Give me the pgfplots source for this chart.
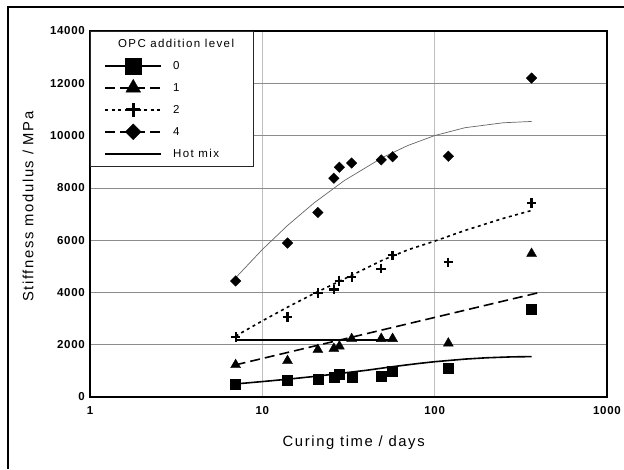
\documentclass[border=0pt]{standalone}
\usepackage{fontspec}
\setmainfont{Liberation Sans}
\newfontfamily\labfont{Liberation Sans}[LetterSpace=11]
\newfontfamily\legfont{Liberation Sans}[LetterSpace=12]
\newfontfamily\tickfont{Liberation Sans}[LetterSpace=6]
\usepackage{pgfplots}
\pgfplotsset{compat=1.18}

\begin{document}
\begin{tikzpicture}
\useasboundingbox (0,0) rectangle (624pt,469pt);
% outer frame (only left and top edges are inside the picture)
\draw[line width=2.6pt] (8pt,0pt) -- (8pt,462pt) -- (624pt,462pt);
\begin{axis}[
    at={(90pt,72pt)}, anchor=south west,
    scale only axis, width=517pt, height=366pt,
    xmode=log, xmin=1, xmax=1000, ymin=0, ymax=14000,
    xtick={1,10,100,1000}, xticklabels={1,10,100,1000},
    ytick={0,2000,4000,6000,8000,10000,12000,14000},
    yticklabels={0,2000,4000,6000,8000,10000,12000,14000},
    scaled y ticks=false,
    major tick length=0pt, minor tick length=0pt,
    xmajorgrids, ymajorgrids,
    major x grid style={black!25, line width=0.6pt},
    major y grid style={black!45, line width=0.7pt},
    axis line style={line width=2pt},
    /pgf/number format/assume math mode=true,
    ticklabel style={font=\tickfont\bfseries\fontsize{11.5}{13}\selectfont},
    yticklabel style={xshift=-1.7pt},
    xticklabel style={yshift=-6pt},
    xlabel={Curing time / days},
    ylabel={Stiffness modulus / MPa},
    label style={font=\labfont\fontsize{14.8}{17}\selectfont},
    xlabel style={at={(axis description cs:0.51,-0.134)}, anchor=base},
    ylabel style={at={(axis description cs:-0.1097,0.5205)}, anchor=base},
    legend image code/.code={\draw[mark repeat=2,mark phase=2,#1] plot coordinates {(0pt,0pt) (28pt,0pt) (56pt,0pt)};},
    legend style={at={(0,1)}, anchor=north west, draw=black!85, line width=0.7pt,
        inner xsep=14pt, inner ysep=1.5pt, column sep=11pt,
        nodes={inner sep=0pt, minimum height=22pt},
        font=\legfont\fontsize{11.5}{13}\selectfont},
    legend cell align=left,
]

% fitted curves
\addplot[black, line width=1.6pt, forget plot] coordinates {
    (7,500) (10,590) (14,680) (21,800) (28,900) (40,1020) (57,1160) (80,1280)
    (100,1350) (150,1450) (200,1500) (280,1535) (365,1545)
};
\addplot[black, line width=1.6pt, dash pattern=on 10pt off 5pt, forget plot] coordinates {
    (7,1230) (395,3980)
};
\addplot[black, line width=1.6pt, dash pattern=on 3pt off 3.5pt, forget plot] coordinates {
    (7,2330) (10,2913) (14,3436) (20,3962) (30,4522) (50,5239) (70,5630)
    (100,5963) (150,6371) (250,6833) (365,7134)
};
\addplot[black!60, line width=0.7pt, forget plot] coordinates {
    (7,4560) (10,5641) (14,6560) (20,7429) (30,8285) (50,9166) (70,9622)
    (100,10000) (150,10301) (250,10490) (365,10540)
};
% hot mix
\addplot[black, line width=1.8pt, forget plot] coordinates {(7,2170) (57,2170)};

% OPC 0
\addplot[only marks, black, mark=square*, mark size=5pt, mark options={line width=0.3pt}, forget plot] coordinates {
    (7,480) (14,650) (21,690) (26,770) (28,880) (33,750) (49,810) (57,1000) (120,1100) (365,3360)
};
% OPC 1
\addplot[only marks, black, mark=triangle*, mark size=5.8pt, mark options={line width=0.3pt}, forget plot] coordinates {
    (7,1230) (14,1385) (21,1810) (26,1850) (28,1940) (33,2225) (49,2230) (57,2230) (120,2055) (365,5485)
};
% OPC 2
\addplot[only marks, black, mark=+, mark size=4.8pt, mark options={line width=2.2pt}, forget plot] coordinates {
    (7,2300) (14,3060) (21,3980) (26,4110) (28,4440) (33,4590) (49,4910) (57,5420) (120,5150) (365,7410)
};
% OPC 4
\addplot[only marks, black, mark=square*, mark size=3.75pt, mark options={rotate=45, line width=0.3pt}, forget plot] coordinates {
    (7,4440) (14,5890) (21,7060) (26,8370) (28,8790) (33,8950) (49,9070) (57,9190) (120,9210) (365,12200)
};

\addlegendimage{empty legend}
\addlegendentry{\hspace*{-55pt}OPC addition level\hspace*{5pt}}
\addlegendimage{black, line width=1.5pt, mark=square*, mark size=7.8pt, mark options={line width=0.3pt}}
\addlegendentry{0}
\addlegendimage{black, line width=1.5pt, dash pattern=on 10pt off 5pt, mark=triangle*, mark size=8.6pt, mark options={solid, line width=0.3pt}}
\addlegendentry{1}
\addlegendimage{black, line width=1.5pt, dash pattern=on 3pt off 3.5pt, mark=+, mark size=6.8pt, mark options={solid, line width=2.8pt}}
\addlegendentry{2}
\addlegendimage{black, line width=1.5pt, dash pattern=on 10pt off 5pt, mark=square*, mark size=5.6pt, mark options={solid, rotate=45, line width=0.3pt}}
\addlegendentry{4}
\addlegendimage{black, line width=1.8pt}
\addlegendentry{Hot mix}

\end{axis}
\end{tikzpicture}
\end{document}
